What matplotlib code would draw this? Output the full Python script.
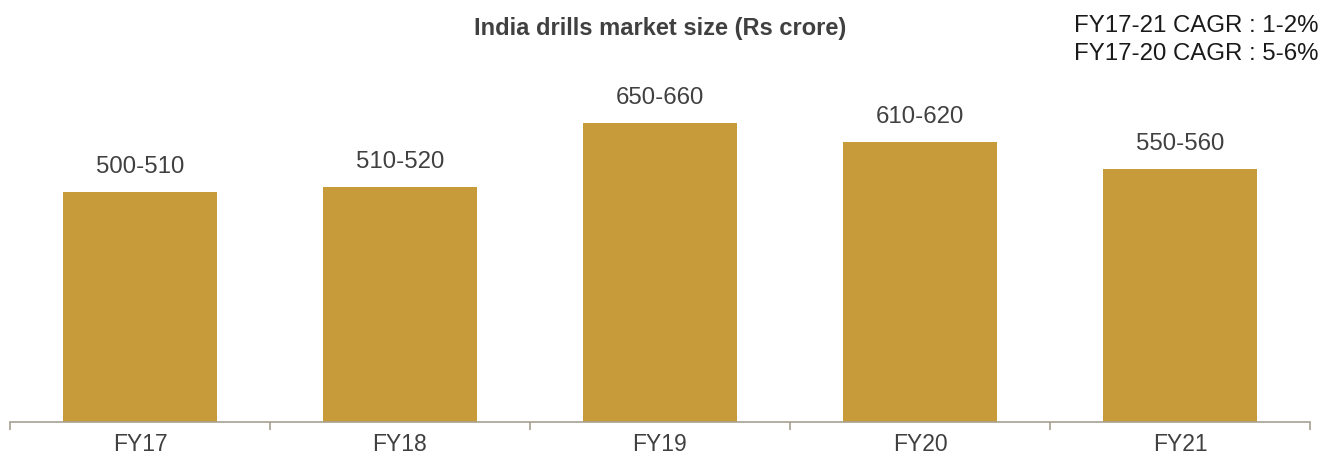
import numpy as np
import matplotlib.pyplot as plt
from matplotlib.ticker import FixedLocator

plt.rcParams["font.family"] = ["Liberation Sans", "DejaVu Sans"]

years = ["FY17", "FY18", "FY19", "FY20", "FY21"]
low = [500, 510, 650, 610, 550]
high = [510, 520, 660, 620, 560]
labels = [f"{a}-{b}" for a, b in zip(low, high)]
cagr_notes = ["FY17-21 CAGR : 1-2%", "FY17-20 CAGR : 5-6%"]

values = [(a + b) / 2 for a, b in zip(low, high)]

W, H = 1322, 459
fig = plt.figure(figsize=(W / 100, H / 100), dpi=100)
ax = fig.add_axes([10 / W, 37 / H, 1300 / W, (422 - 80) / H])

x = np.arange(len(years))
bars = ax.bar(x, values, width=0.59, color="#C89B3A")

for rect, lab in zip(bars, labels):
    ax.annotate(lab, (rect.get_x() + rect.get_width() / 2, rect.get_height()),
                xytext=(0, 10), textcoords="offset points",
                ha="center", va="bottom", fontsize=17.3, color="#404040")

ax.set_xlim(-0.5, len(years) - 0.5)
ax.set_ylim(0, 750)

for side in ["top", "right", "left"]:
    ax.spines[side].set_visible(False)
ax.spines["bottom"].set_color("#A89F91")
ax.spines["bottom"].set_linewidth(1.2)
ax.set_yticks([])

ax.set_xticks(x)
ax.set_xticklabels(years, fontsize=16.5, color="#404040")
ax.tick_params(axis="x", which="major", length=0, pad=8)
ax.xaxis.set_minor_locator(FixedLocator(np.arange(-0.5, len(years), 1.0)))
ax.tick_params(axis="x", which="minor", length=6, width=1.2, color="#A89F91")

fig.text(660 / W, 1 - 28 / H, "India drills market size (Rs crore)",
         ha="center", va="center", fontsize=17, fontweight="bold", color="#404040")
fig.text(1318 / W, 1 - 26 / H, cagr_notes[0], ha="right", va="center",
         fontsize=17.3, color="#1a1a1a")
fig.text(1318 / W, 1 - 54 / H, cagr_notes[1], ha="right", va="center",
         fontsize=17.3, color="#1a1a1a")

fig.savefig("out.png", dpi=100)
